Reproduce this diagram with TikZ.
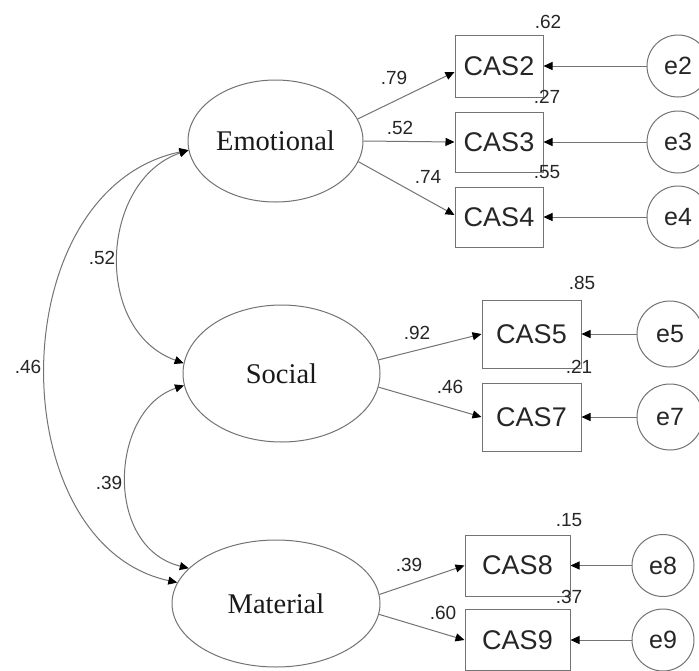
\documentclass[tikz,border=0pt]{standalone}
\usepackage{fontspec}
\setmainfont{Liberation Serif}
\setsansfont{Liberation Sans}
\usetikzlibrary{shapes.geometric,arrows.meta}
\begin{document}
\begin{tikzpicture}[x=1pt,y=-1pt,
  line/.style={draw=black!55, line width=1pt},
  tip/.style={-{Triangle[length=9pt,width=8pt,color=black]}},
  both/.style={{Triangle[length=9pt,width=8pt,color=black]}-{Triangle[length=9pt,width=8pt,color=black]}},
  latent/.style={ellipse, draw=black!55, line width=1pt, inner sep=0pt, font=\fontsize{28.5}{30}\selectfont, text=black!90},
  obs/.style={rectangle, draw=black!55, line width=1pt, inner sep=0pt, font=\sffamily\fontsize{27}{29}\selectfont, text=black!85},
  err/.style={circle, draw=black!55, line width=1pt, inner sep=0pt, minimum size=62pt, font=\sffamily\fontsize{25}{27}\selectfont, text=black!85},
  num/.style={font=\sffamily\fontsize{19}{21}\selectfont, inner sep=0pt, text=black!85},
]
\useasboundingbox[fill=white] (0,0) rectangle (699,670);

% latent variables
\node[latent, minimum width=175pt, minimum height=122pt] (emo) at (275.5,141) {Emotional};
\node[latent, minimum width=197pt, minimum height=137pt] (soc) at (281.5,373.5) {Social};
\node[latent, minimum width=208pt, minimum height=127pt] (mat) at (276,603.5) {Material};

% observed variables
\node[obs, minimum width=88pt, minimum height=62pt] (cas2) at (499,66) {CAS2};
\node[obs, minimum width=88pt, minimum height=60pt] (cas3) at (499,142) {CAS3};
\node[obs, minimum width=88pt, minimum height=60pt] (cas4) at (499,217) {CAS4};
\node[obs, minimum width=99pt, minimum height=68pt] (cas5) at (531.5,334) {CAS5};
\node[obs, minimum width=99pt, minimum height=68pt] (cas7) at (531.5,417) {CAS7};
\node[obs, minimum width=105pt, minimum height=61pt] (cas8) at (517.5,565.5) {CAS8};
\node[obs, minimum width=105pt, minimum height=61pt] (cas9) at (517.5,640) {CAS9};

% errors
\node[err] (e2) at (678,66) {e2};
\node[err] (e3) at (678,142) {e3};
\node[err] (e4) at (678,217) {e4};
\node[err, minimum size=66pt] (e5) at (670,334) {e5};
\node[err, minimum size=66pt] (e7) at (670,417) {e7};
\node[err] (e8) at (663,565.5) {e8};
\node[err] (e9) at (663,640) {e9};

% loadings
\draw[line,tip] (emo.15) -- ([yshift=-6pt]cas2.west);
\draw[line,tip] (emo.0) -- (cas3.west);
\draw[line,tip] (emo.346) -- ([yshift=2pt]cas4.west);
\draw[line,tip] (soc.8) -- (cas5.west);
\draw[line,tip] (soc.352) -- (cas7.west);
\draw[line,tip] (mat.5) -- (cas8.west);
\draw[line,tip] (mat.354) -- (cas9.west);

% error arrows
\draw[line,tip] (e2.west) -- (cas2.east);
\draw[line,tip] (e3.west) -- (cas3.east);
\draw[line,tip] (e4.west) -- (cas4.east);
\draw[line,tip] (e5.west) -- (cas5.east);
\draw[line,tip] (e7.west) -- (cas7.east);
\draw[line,tip] (e8.west) -- (cas8.east);
\draw[line,tip] (e9.west) -- (cas9.east);

% covariances
\draw[line,both] (emo.186) .. controls (100,180) and (92,330) .. (soc.174);
\draw[line,both] (emo.186) .. controls (0,190) and (0,544) .. (mat.168);
\draw[line,both] (soc.187) .. controls (110,410) and (103,547) .. (mat.158);

% covariance labels
\node[num] (c52) at (102,258) {.52};
\node[num] (c46) at (28,367) {.46};
\node[num] (c39) at (109,483) {.39};

% loading labels
\node[num] (l79) at (394,78) {.79};
\node[num] (l52) at (400,128) {.52};
\node[num] (l74) at (428,177) {.74};
\node[num] (l92) at (417,333) {.92};
\node[num] (l46) at (450,387) {.46};
\node[num] (l39) at (409,565) {.39};
\node[num] (l60) at (443,613) {.60};

% squared multiple correlations
\node[num] (r62) at (548,22) {.62};
\node[num] (r27) at (547,97) {.27};
\node[num] (r55) at (547,172) {.55};
\node[num] (r85) at (582,283) {.85};
\node[num] (r21) at (579,367) {.21};
\node[num] (r15) at (569,520) {.15};
\node[num] (r37) at (569,597) {.37};
\end{tikzpicture}
\end{document}
